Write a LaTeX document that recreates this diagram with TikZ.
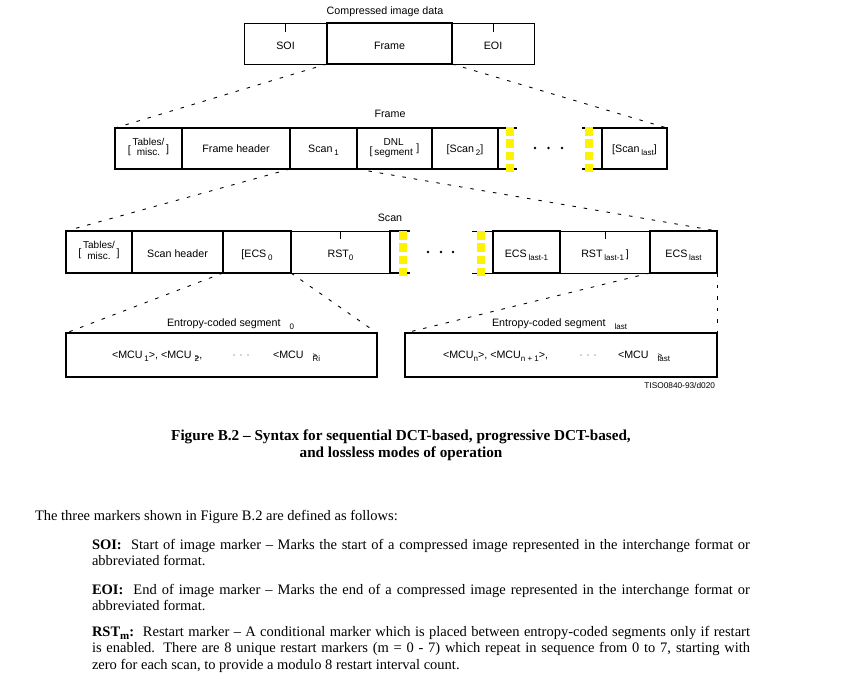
\documentclass[tikz,border=0pt]{standalone}
\usepackage{fontspec}
\setmainfont{Liberation Serif}
\newfontfamily\arialf{Liberation Sans}
\usetikzlibrary{calc}
\newcommand\sbx[1]{\raisebox{-3pt}{\fontsize{8}{8}\selectfont #1}}
\newcommand\twoline[2]{{\fontsize{10}{10.5}\selectfont\begin{tabular}{@{}c@{}}#1\\#2\end{tabular}}}
\newcommand\tabmisc{\raisebox{-2pt}{[}\,\twoline{Tables/}{misc.}\,\raisebox{-1.5pt}{]}}
\begin{document}
\begin{tikzpicture}[x=1pt,y=-1pt,
  every node/.style={inner sep=0pt, outer sep=0pt, font=\arialf\fontsize{10.7}{10.7}\selectfont},
  thinbox/.style={draw, line width=0.9pt},
  thickbox/.style={draw, line width=2.2pt},
  thn/.style={line width=0.9pt},
  thk/.style={line width=2.2pt},
  lb/.style={text height=#1, text depth=0pt},
  proj/.style={line width=0.9pt, dash pattern=on 3.5pt off 8pt},
  yel/.style={draw=yellow, line width=8pt, dash pattern=on 8.5pt off 3.8pt},
  dot/.style={circle, fill=black, minimum size=2.6pt},
  small dot/.style={circle, fill=black!70, minimum size=1.4pt},
  body/.style={font=\fontsize{14.5}{16.5}\selectfont},
]
\useasboundingbox[fill=white] (0,0) rectangle (858,678);

% ---- top row ----
\node (cid) at (385,12) {Compressed image data};
\node[thinbox, lb=11pt, minimum width=83pt, minimum height=41pt] (soi) at (285.5,43.5) {SOI};
\node[thinbox, lb=11pt, minimum width=82pt, minimum height=41pt] (eoi) at (493,43.5) {EOI};
\node[thickbox, lb=11pt, minimum width=125pt, minimum height=41pt] (frame) at (389.5,43.5) {Frame};
\draw[thn] (soi.north) -- ++(0,9);
\draw[thn] (eoi.north) -- ++(0,9);

% ---- frame row ----
\node (framelbl) at (390,114) {Frame};
\node[thickbox, minimum width=67pt, minimum height=41pt] (ftab) at (148.5,148.5) {\tabmisc};
\node[thickbox, lb=7pt, minimum width=108pt, minimum height=41pt] (fhdr) at (236,148.5) {Frame header};
\node[thickbox, lb=7pt, minimum width=67pt, minimum height=41pt] (fscan1) at (323.5,148.5) {Scan\,\sbx{1}};
\node[thickbox, minimum width=75pt, minimum height=41pt] (fdnl) at (394.5,148.5) {\raisebox{-3pt}{[}\,\twoline{DNL}{segment}\,\,]};
\node[thickbox, lb=7pt, minimum width=66pt, minimum height=41pt] (fscan2) at (465,148.5) {[Scan\,\sbx{2}]};
\node[thickbox, lb=7pt, minimum width=65pt, minimum height=41pt] (fscanl) at (634.5,148.5) {[Scan\,\sbx{last}]};
\draw[thk] (fscan2.north east) -- ++(19,0);
\draw[thk] (fscan2.south east) -- ++(19,0);
\draw[thk] (fscanl.north west) -- ++(-20,0);
\draw[thk] (fscanl.south west) -- ++(-20,0);
\draw[yel] (510,127) -- (510,174);
\draw[yel] (589,127) -- (589,174);
\node[dot] (fd1) at (535,148) {};
\node[dot] (fd2) at (548.5,148) {};
\node[dot] (fd3) at (562,148) {};

% ---- scan row ----
\node (scanlbl) at (390,218) {Scan};
\node[thinbox, lb=10pt, minimum width=99pt, minimum height=42pt] (srst0) at (340.5,252) {RST\sbx{0}};
\node[thinbox, lb=10pt, minimum width=90pt, minimum height=42pt] (srstl1) at (605,252) {RST\,\sbx{last-1}\,]};
\draw[thn] (srst0.north) -- ++(0,8);
\draw[thn] (srstl1.north) -- ++(0,8);
\node[thickbox, minimum width=66pt, minimum height=42pt] (stab) at (99,252) {\tabmisc};
\node[thickbox, lb=10pt, minimum width=91pt, minimum height=42pt] (shdr) at (177.5,252) {Scan header};
\node[thickbox, lb=10pt, minimum width=68pt, minimum height=42pt] (secs0) at (257,252) {[ECS\,\sbx{0}};
\node[thickbox, lb=10pt, minimum width=67pt, minimum height=42pt] (secsl1) at (526.5,252) {ECS\,\sbx{last-1}};
\node[thickbox, lb=10pt, minimum width=67pt, minimum height=42pt] (secsl) at (683.5,252) {ECS\,\sbx{last}};
\draw[thk, line join=miter] ($(srst0.north east)+(20,0)$) -- (srst0.north east) -- (srst0.south east) -- ++(20,0);
\draw[thn] (secsl1.north west) -- ++(-21,0);
\draw[thn] (secsl1.south west) -- ++(-21,0);
\draw[yel] (402.5,231) -- (402.5,276);
\draw[yel] (481,231) -- (481,276);
\node[dot] (sd1) at (428,252) {};
\node[dot] (sd2) at (441,252) {};
\node[dot] (sd3) at (453,252) {};

% ---- entropy-coded segments ----
\node[thickbox, minimum width=311pt, minimum height=44pt] (e0) at (221.5,355) {};
\node[thickbox, minimum width=312pt, minimum height=44pt] (el) at (561,355) {};
\node[anchor=base west] (e0t) at (167,326.5) {Entropy-coded segment\hspace{9pt}\sbx{0}};
\node[anchor=base west] (elt) at (492,326.5) {Entropy-coded segment\hspace{9pt}\sbx{last}};
\node[anchor=base west] (m0a) at (112,358.5) {<MCU\,\sbx{1}>, <MCU\;\makebox[0pt][l]{\sbx{2}}\raisebox{-1.5pt}{\fontsize{8}{8}\selectfont >},};
\node[small dot] at (234,355) {};
\node[small dot] at (241,355) {};
\node[small dot] at (248,355) {};
\node[anchor=base west] (m0b) at (273,358.5) {<MCU\hspace{9pt}\makebox[0pt][l]{\sbx{Ri}}\raisebox{0.5pt}{\fontsize{8}{8}\selectfont >}};
\node[anchor=base west] (mla) at (443,358.5) {<MCU\sbx{n}>, <MCU\sbx{n + 1}>,};
\node[small dot] at (581,355) {};
\node[small dot] at (588,355) {};
\node[small dot] at (595,355) {};
\node[anchor=base west] (mlb) at (618,358.5) {<MCU\hspace{9pt}\makebox[0pt][l]{\sbx{last}}\raisebox{0.5pt}{\fontsize{8}{8}\selectfont >}};
\node[anchor=base east, font=\arialf\fontsize{8.3}{8.3}\selectfont] (tiso) at (715,388) {TISO0840-93/d020};

% ---- projections ----
\draw[proj] (frame.south west) -- (ftab.north west);
\draw[proj] (frame.south east) -- (fscanl.north east);
\draw[proj] (fscan1.south west) -- (stab.north west);
\draw[proj] (fscan1.south east) -- (secsl.north east);
\draw[proj] (secs0.south west) -- (e0.north west);
\draw[proj] (secs0.south east) -- (e0.north east);
\draw[proj] (secsl.south west) -- (el.north west);
\draw[proj] (secsl.south east) -- (el.north east);

% ---- caption and text ----
\node[font=\bfseries\fontsize{15.2}{16.5}\selectfont, align=center, anchor=base] (cap) at (401,457)
  {Figure B.2 – Syntax for sequential DCT-based, progressive DCT-based,\\and lossless modes of operation};
\node[body, anchor=base west] (intro) at (35,520) {The three markers shown in Figure B.2 are defined as follows:};
\node[body, text width=658pt, align=justify, anchor=north west] (soidef) at (92,539)
  {\textbf{SOI:}\ \ Start of image marker – Marks the start of a compressed image represented in the interchange format or abbreviated format.};
\node[body, text width=658pt, align=justify, anchor=north west] (eoidef) at (92,584)
  {\textbf{EOI:}\ \ End of image marker – Marks the end of a compressed image represented in the interchange format or abbreviated format.};
\node[body, text width=658pt, align=justify, anchor=north west] (rstdef) at (92,626)
  {\textbf{RST\raisebox{-3pt}{\fontsize{11}{11}\selectfont m}:}\ \ Restart marker – A conditional marker which is placed between entropy-coded segments only if restart\linebreak is enabled. There are 8 unique restart markers (m = 0 - 7) which repeat in sequence from 0 to 7, starting with\linebreak zero for each scan, to provide a modulo 8 restart interval count.};
\end{tikzpicture}
\end{document}
